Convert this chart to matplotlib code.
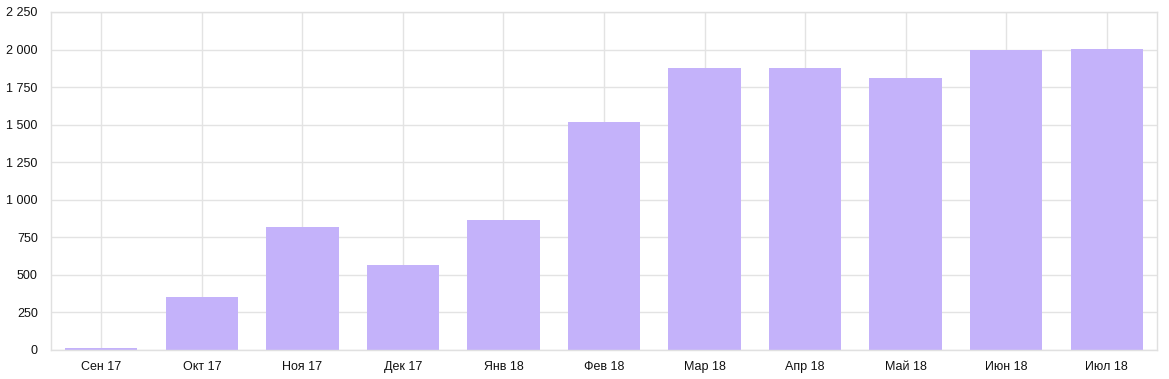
import matplotlib.pyplot as plt
from matplotlib.ticker import FuncFormatter, MultipleLocator

months = ["Сен 17", "Окт 17", "Ноя 17", "Дек 17", "Янв 18", "Фев 18",
          "Мар 18", "Апр 18", "Май 18", "Июн 18", "Июл 18"]
values = [15, 355, 819, 566, 866, 1518, 1877, 1877, 1811, 2000, 2006]

plt.rcParams['font.family'] = ['Liberation Sans', 'DejaVu Sans']

fig = plt.figure(figsize=(11.69, 3.79), dpi=100)
ax = fig.add_axes([51 / 1169, 29 / 379, 1106 / 1169, 338 / 379])

x = range(len(months))
ax.bar(x, values, width=0.72, color="#c4b2fa", zorder=2)

ax.set_xlim(-0.5, len(months) - 0.5)
ax.set_ylim(0, 2250)
ax.yaxis.set_major_locator(MultipleLocator(250))
ax.yaxis.set_major_formatter(FuncFormatter(lambda v, p: f"{int(v):,}".replace(",", " ")))
ax.set_xticks(list(x))
ax.set_xticklabels(months)

ax.grid(True, color="#e3e3e3", linewidth=1, zorder=0)
ax.set_axisbelow(True)
for s in ax.spines.values():
    s.set_color("#e0e0e0")
    s.set_linewidth(1)
ax.tick_params(length=0, labelsize=9, colors="#111111", pad=8)
ax.tick_params(axis="y", pad=9.5)

fig.savefig("out.png", dpi=100)
